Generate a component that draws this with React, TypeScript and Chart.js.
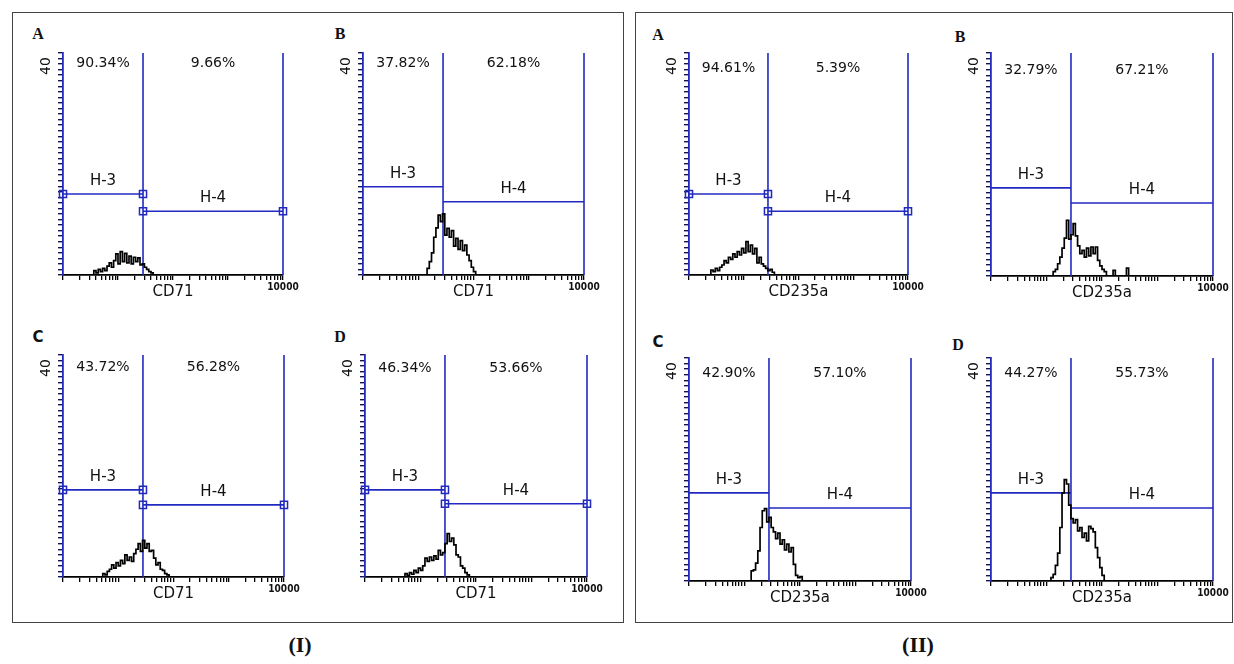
import React, { useEffect, useRef } from "react";
import { Chart, registerables } from "chart.js";
Chart.register(...registerables);

// Fluorescence bin positions (log-spaced channels) shared by all histograms
const BINS = [2.29, 2.51, 2.75, 3.02, 3.31, 3.63, 3.98, 4.37, 4.79, 5.25, 5.75, 6.31, 6.92, 7.59, 8.32, 9.12, 10, 10.96, 12.02, 13.18, 14.45, 15.85, 17.38, 19.05, 20.89, 22.91, 25.12, 27.54, 30.2, 33.11, 36.31, 39.81, 43.65, 47.86, 52.48, 57.54, 63.1, 69.18, 75.86, 83.18, 91.2, 100, 109.6, 120.2, 131.8, 144.5, 158.5, 173.8, 190.5, 208.9, 229.1, 251.2, 275.4, 302];

const X_TICKS = [1, 2, 3, 4, 5, 6, 7, 8, 9, 10, 20, 30, 40, 50, 60, 70, 80, 90, 100, 200, 300, 400, 500, 600, 700, 800, 900, 1000, 2000, 3000, 4000, 5000, 6000, 7000, 8000, 9000, 10000];
const Y_TICKS = [0, 1, 2, 3, 4, 5, 6, 7, 8, 9, 10, 11, 12, 13, 14, 15, 16, 17, 18, 19, 20, 21, 22, 23, 24, 25, 26, 27, 28, 29, 30, 31, 32, 33, 34, 35, 36, 37, 38, 39, 40];
const X_MAX_LABEL = "10000";
const Y_MAX_LABEL = "40";

// Histogram counts (start bin + counts)
const IA_FROM = 3.31;
const IA_COUNTS = [0, 0.8, 0.4, 1.0, 0.6, 1.2, 0.8, 1.6, 2.2, 1.4, 2.6, 3.8, 2.0, 4.2, 2.4, 3.9, 2.2, 3.4, 2.0, 3.2, 2.4, 3.1, 1.8, 2.0, 1.4, 1.0, 0.6, 0.4, 0];
const IB_FROM = 13.18;
const IB_COUNTS = [0, 1.2, 2.4, 4.0, 6.8, 8.5, 10.8, 9.6, 11.0, 7.2, 8.4, 6.8, 8.0, 5.2, 6.6, 4.6, 6.2, 4.4, 5.4, 3.6, 2.6, 1.4, 0.6, 0];
const IC_FROM = 4.79;
const IC_COUNTS = [0, 0.6, 0.4, 1.0, 1.4, 2.2, 1.6, 2.6, 2.0, 3.0, 2.4, 4.0, 3.0, 3.6, 2.8, 4.2, 5.0, 6.0, 4.6, 6.6, 5.2, 6.0, 4.6, 4.8, 3.4, 2.2, 2.6, 1.4, 1.2, 0.6, 0.4, 0];
const ID_FROM = 4.79;
const ID_COUNTS = [0, 0.6, 0.3, 0.8, 0.5, 1.2, 0.8, 1.6, 1.2, 2.0, 3.4, 2.8, 3.6, 3.0, 3.8, 3.2, 4.8, 4.0, 4.4, 6.0, 7.8, 6.4, 7.0, 5.8, 4.0, 3.6, 2.0, 1.6, 0.8, 0.4, 0];
const IIA_FROM = 2.29;
const IIA_COUNTS = [0, 0.9, 0.6, 1.2, 0.8, 1.4, 1.8, 2.6, 2.2, 3.2, 2.8, 3.8, 3.2, 4.2, 3.6, 4.8, 4.0, 6.0, 4.2, 5.4, 3.8, 4.8, 2.2, 3.2, 2.0, 1.6, 1.2, 0.8, 1.0, 0.5, 0];
const IIB_FROM = 12.02;
const IIB_COUNTS = [0, 0.8, 1.2, 2.2, 3.4, 5.0, 6.8, 10.0, 6.6, 7.4, 9.4, 7.2, 5.4, 4.0, 4.6, 3.4, 5.0, 3.6, 5.2, 4.0, 5.2, 2.8, 1.8, 1.2, 0.8, 0, 0, 0, 1.0, 0, 0, 0, 0, 0, 1.4, 0];
const IIC_FROM = 12.02;
const IIC_COUNTS = [0, 1.8, 2.0, 3.2, 5.4, 9.6, 12.6, 13.0, 10.6, 11.4, 9.6, 8.8, 7.6, 8.6, 6.6, 7.4, 5.6, 6.6, 5.2, 6.0, 3.0, 1.0, 0.6, 0.8, 0];
const IID_FROM = 10.96;
const IID_COUNTS = [0, 0.6, 1.2, 2.8, 5.0, 9.6, 15.8, 18.2, 17.4, 13.6, 11.2, 10.4, 11.0, 9.0, 9.6, 7.8, 8.6, 7.2, 9.8, 9.4, 8.8, 6.0, 4.2, 2.4, 1.0, 0];

// Gates: marker divider, H-3 level, H-4 level (panel order I-A, I-B, I-C, I-D, II-A, II-B, II-C, II-D)
const GATE_DIV = [28.5, 28.1, 28.0, 27.6, 27.7, 27.6, 27.6, 27.6];
const GATE_H3 = [14.6, 15.9, 15.7, 15.7, 14.6, 15.8, 15.8, 15.8];
const GATE_H4 = [11.5, 13.2, 13.0, 13.2, 11.5, 13.1, 13.1, 13.1];
const GATE_MARKERS = [true, false, true, true, true, false, false, false];

const PCT_LEFT = ["90.34%", "37.82%", "43.72%", "46.34%", "94.61%", "32.79%", "42.90%", "44.27%"];
const PCT_RIGHT = ["9.66%", "62.18%", "56.28%", "53.66%", "5.39%", "67.21%", "57.10%", "55.73%"];
const LETTERS = ["A", "B", "C", "D", "A", "B", "C", "D"];
const AXIS_TITLES = ["CD71", "CD71", "CD71", "CD71", "CD235a", "CD235a", "CD235a", "CD235a"];
const HISTS: [number, number[]][] = [
  [IA_FROM, IA_COUNTS], [IB_FROM, IB_COUNTS], [IC_FROM, IC_COUNTS], [ID_FROM, ID_COUNTS],
  [IIA_FROM, IIA_COUNTS], [IIB_FROM, IIB_COUNTS], [IIC_FROM, IIC_COUNTS], [IID_FROM, IID_COUNTS],
];

// Layout (pixels): plot-area boxes, letter centers, percent-label offsets
const LAYOUT = [
  { left: 63, top: 53, right: 283, bottom: 275, lx: 38, ly: 34, pctDy: 10 },
  { left: 363, top: 53, right: 584, bottom: 275, lx: 340, ly: 34, pctDy: 10 },
  { left: 63, top: 355, right: 284, bottom: 577, lx: 38, ly: 337, pctDy: 12 },
  { left: 365, top: 355, right: 587, bottom: 577, lx: 340, ly: 337, pctDy: 13 },
  { left: 689, top: 53, right: 908, bottom: 275, lx: 658, ly: 35, pctDy: 15 },
  { left: 991, top: 53, right: 1213, bottom: 276, lx: 960, ly: 37, pctDy: 17 },
  { left: 689, top: 358, right: 911, bottom: 581, lx: 658, ly: 342, pctDy: 15 },
  { left: 991, top: 358, right: 1213, bottom: 581, lx: 958, ly: 345, pctDy: 15 },
];

const BLUE = "#2229c0";
const PADL = 42, PADT = 14, PADR = 24, PADB = 32;
const SANS = '"DejaVu Sans", Verdana, sans-serif';

function Panel({ i }: { i: number }) {
  const ref = useRef<HTMLCanvasElement>(null);
  const L = LAYOUT[i];
  const W = L.right - L.left + PADL + PADR;
  const H = L.bottom - L.top + PADT + PADB;

  useEffect(() => {
    const [from, counts] = HISTS[i];
    const start = BINS.indexOf(from);
    const hist = counts.map((c, k) => ({ x: BINS[start + k], y: c }));
    const div = GATE_DIV[i], h3 = GATE_H3[i], h4 = GATE_H4[i];
    const markers = GATE_MARKERS[i];
    const xMin = X_TICKS[0], xMax = X_TICKS[X_TICKS.length - 1];
    const yMin = Y_TICKS[0], yMax = Y_TICKS[Y_TICKS.length - 1];

    const gateLine = (pts: { x: number; y: number }[], withMarkers: boolean) => ({
      data: pts,
      borderColor: BLUE,
      borderWidth: 1.6,
      pointStyle: "rect",
      pointRadius: withMarkers ? 5 : 0,
      pointBorderColor: BLUE,
      pointBorderWidth: 1.5,
      pointBackgroundColor: "rgba(255,255,255,0)",
      fill: false,
      clip: false,
    });

    const textPlugin = {
      id: "panelText" + i,
      afterDraw(chart: any) {
        const { ctx, chartArea: ca, scales } = chart;
        const xs = scales.x, ys = scales.y;
        const p1 = xs.getPixelForValue(xMin);
        const pd = xs.getPixelForValue(div);
        const pe = xs.getPixelForValue(xMax);
        ctx.save();
        ctx.fillStyle = "#111";
        ctx.textAlign = "center";
        ctx.textBaseline = "middle";
        ctx.font = "14px " + SANS;
        ctx.fillText(PCT_LEFT[i], (p1 + pd) / 2, ca.top + L.pctDy);
        ctx.fillText(PCT_RIGHT[i], (pd + pe) / 2, ca.top + L.pctDy);
        ctx.font = "15px " + SANS;
        ctx.fillText("H-3", (p1 + pd) / 2, ys.getPixelForValue(h3) - 13);
        ctx.fillText("H-4", (pd + pe) / 2, ys.getPixelForValue(h4) - 13);
        ctx.fillText(AXIS_TITLES[i], (ca.left + ca.right) / 2, ca.bottom + 17);
        ctx.font = 'bold 10px "DejaVu Sans Condensed", "DejaVu Sans", sans-serif';
        ctx.fillText(X_MAX_LABEL, pe, ca.bottom + 12);
        ctx.translate(ca.left - 17, ys.getPixelForValue(yMax) + 13);
        ctx.rotate(-Math.PI / 2);
        ctx.font = "14px " + SANS;
        ctx.fillText(Y_MAX_LABEL, 0, 0);
        ctx.restore();
      },
    };

    const chart = new Chart(ref.current as HTMLCanvasElement, {
      type: "line",
      data: {
        datasets: [
          {
            data: hist,
            borderColor: "#000",
            borderWidth: 1.7,
            stepped: "before",
            pointRadius: 0,
            fill: false,
          } as any,
          gateLine([{ x: xMin, y: h3 }, { x: div, y: h3 }], markers),
          gateLine([{ x: div, y: h4 }, { x: xMax, y: h4 }], markers),
          gateLine([{ x: div, y: yMin }, { x: div, y: yMax }], false),
          gateLine([{ x: xMax, y: yMin }, { x: xMax, y: yMax }], false),
        ] as any,
      },
      options: {
        animation: false,
        responsive: false,
        events: [],
        layout: { padding: { left: 0, top: PADT, right: PADR, bottom: 0 } },
        plugins: { legend: { display: false }, tooltip: { enabled: false } },
        scales: {
          x: {
            type: "logarithmic",
            min: xMin,
            max: xMax,
            afterBuildTicks: (s: any) => { s.ticks = X_TICKS.map((v) => ({ value: v })); },
            afterFit: (s: any) => { s.height = PADB; },
            ticks: { display: false },
            grid: { drawOnChartArea: false, drawTicks: true, tickLength: 5, color: "#000", lineWidth: 1.3 },
            border: { color: "#000", width: 1.8 },
          },
          y: {
            type: "linear",
            min: yMin,
            max: yMax,
            afterBuildTicks: (s: any) => { s.ticks = Y_TICKS.map((v) => ({ value: v })); },
            afterFit: (s: any) => { s.width = PADL; },
            ticks: { display: false },
            grid: { drawOnChartArea: false, drawTicks: true, tickLength: 5, color: "#14144a", lineWidth: 1.4 },
            border: { color: BLUE, width: 1.8 },
          },
        },
      } as any,
      plugins: [textPlugin],
    });
    return () => chart.destroy();
  }, [i]);

  return (
    <canvas
      ref={ref}
      width={W}
      height={H}
      style={{ position: "absolute", left: L.left - PADL, top: L.top - PADT, width: W, height: H }}
    />
  );
}

export default function App() {
  const letterStyle = (x: number, y: number, sans: boolean): React.CSSProperties => ({
    position: "absolute",
    left: x,
    top: y,
    transform: "translate(-50%, -50%)",
    font: sans ? 'bold 15px "DejaVu Sans", sans-serif' : 'bold 16px "Liberation Serif", serif',
    lineHeight: 1,
    color: "#111",
  });
  return (
    <div style={{ position: "absolute", left: 0, top: 0, width: 1234, height: 664, background: "#fff", overflow: "hidden" }}>
      <div style={{ position: "absolute", left: 12, top: 12, width: 610, height: 609, border: "1px solid #444" }} />
      <div style={{ position: "absolute", left: 635, top: 12, width: 596, height: 609, border: "1px solid #444" }} />
      {LAYOUT.map((L, i) => (
        <div key={"l" + i} style={letterStyle(L.lx, L.ly, LETTERS[i] === "C")}>{LETTERS[i]}</div>
      ))}
      {LAYOUT.map((_, i) => (
        <Panel key={"p" + i} i={i} />
      ))}
      <div style={{ position: "absolute", left: 300, top: 645, transform: "translate(-50%, -50%)", font: 'bold 22px "Liberation Serif", serif', lineHeight: 1, color: "#111" }}>(I)</div>
      <div style={{ position: "absolute", left: 918, top: 645, transform: "translate(-50%, -50%)", font: 'bold 22px "Liberation Serif", serif', lineHeight: 1, color: "#111" }}>(II)</div>
    </div>
  );
}
